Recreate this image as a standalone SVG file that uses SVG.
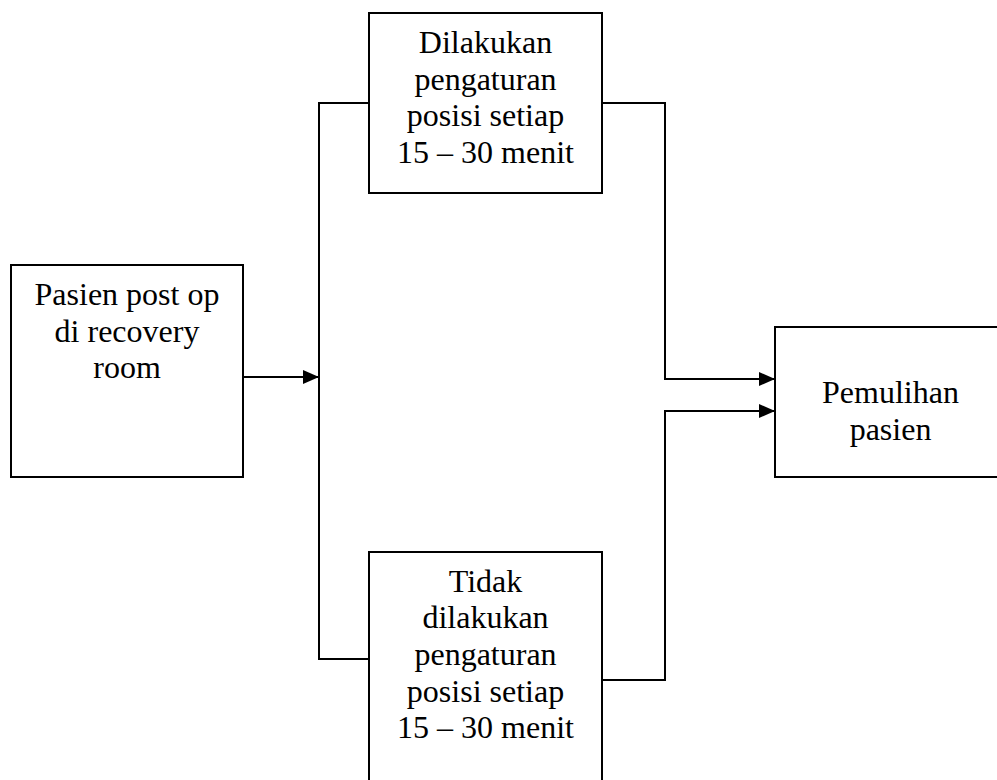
<svg xmlns="http://www.w3.org/2000/svg" width="997" height="780" viewBox="0 0 997 780">
<style>
.box{fill:#fff;stroke:#000;stroke-width:2}
.t{font-family:"Liberation Serif","Times New Roman",serif;font-size:32px;fill:#000;text-anchor:middle}
.c{fill:none;stroke:#000;stroke-width:2}
</style>
<defs>
<marker id="ah" markerWidth="16" markerHeight="14" refX="16" refY="7" orient="auto" markerUnits="userSpaceOnUse">
<path d="M0,0 L16,7 L0,14 Z" fill="#000"/>
</marker>
</defs>
<rect width="997" height="780" fill="#fff"/>
<g id="connectors">
<path class="c" d="M243,377 H319" marker-end="url(#ah)"/>
<path class="c" d="M369,103 H319 V659 H369"/>
<path class="c" d="M602,103 H665 V379 H775" marker-end="url(#ah)"/>
<path class="c" d="M602,680 H665 V411 H775" marker-end="url(#ah)"/>
</g>
<g id="node-pasien">
<rect class="box" x="11" y="265" width="232" height="212"/>
<text class="t"><tspan x="127" y="305">Pasien post op</tspan><tspan x="127" y="341.7">di recovery</tspan><tspan x="127" y="378.3">room</tspan></text>
</g>
<g id="node-dilakukan">
<rect class="box" x="369" y="13" width="233" height="180"/>
<text class="t"><tspan x="485.5" y="53">Dilakukan</tspan><tspan x="485.5" y="89.7">pengaturan</tspan><tspan x="485.5" y="126.3">posisi setiap</tspan><tspan x="485.5" y="163">15 – 30 menit</tspan></text>
</g>
<g id="node-tidak">
<rect class="box" x="369" y="552" width="233" height="240"/>
<text class="t"><tspan x="485.5" y="591.7">Tidak</tspan><tspan x="485.5" y="628.3">dilakukan</tspan><tspan x="485.5" y="665">pengaturan</tspan><tspan x="485.5" y="701.7">posisi setiap</tspan><tspan x="485.5" y="738.3">15 – 30 menit</tspan></text>
</g>
<g id="node-pemulihan">
<rect class="box" x="775" y="327" width="232" height="150"/>
<text class="t"><tspan x="890.5" y="403">Pemulihan</tspan><tspan x="890.5" y="439.7">pasien</tspan></text>
</g>
</svg>
